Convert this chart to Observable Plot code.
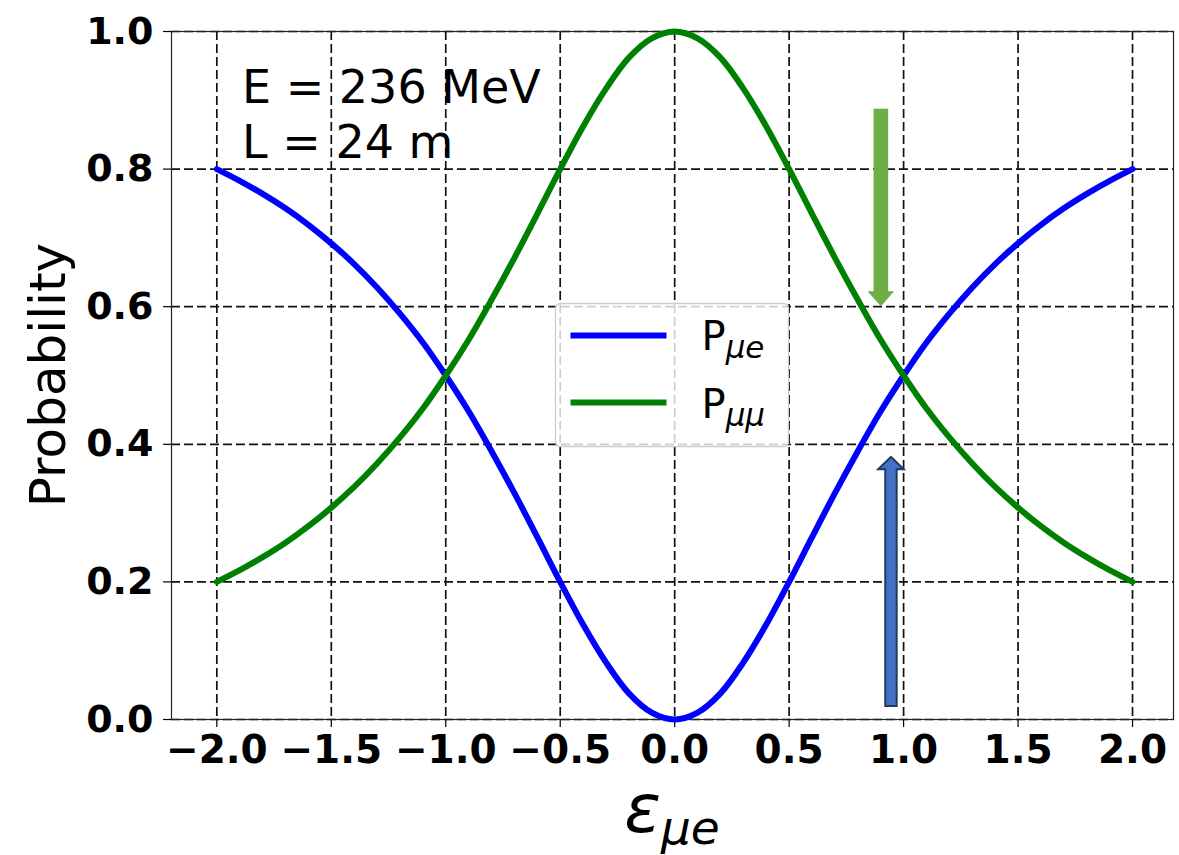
<!DOCTYPE html>
<html>
<head>
<meta charset="utf-8">
<script src="https://cdn.jsdelivr.net/npm/d3@7"></script>
<script src="https://cdn.jsdelivr.net/npm/@observablehq/plot@0.6"></script>
<style>
  html, body { margin: 0; padding: 0; background: #fff; }
</style>
</head>
<body>
<div id="chart"></div>
<script>
// NSI parameter ε_μe and the two oscillation probabilities
const epsilon = [
  -2.0, -1.9, -1.8, -1.7, -1.6, -1.5, -1.4, -1.3, -1.2, -1.1,
  -1.0, -0.9, -0.8, -0.7, -0.6, -0.5, -0.4, -0.3, -0.2, -0.1,
   0.0,
   0.1,  0.2,  0.3,  0.4,  0.5,  0.6,  0.7,  0.8,  0.9,  1.0,
   1.1,  1.2,  1.3,  1.4,  1.5,  1.6,  1.7,  1.8,  1.9,  2.0
];
const pMuE = [
  0.800, 0.783, 0.764, 0.743, 0.719, 0.692, 0.662, 0.628, 0.590, 0.548,
  0.500, 0.448, 0.390, 0.329, 0.265, 0.200, 0.138, 0.083, 0.038, 0.010,
  0.000,
  0.010, 0.038, 0.083, 0.138, 0.200, 0.265, 0.329, 0.390, 0.448, 0.500,
  0.548, 0.590, 0.628, 0.662, 0.692, 0.719, 0.743, 0.764, 0.783, 0.800
];
const pMuMu = [
  0.200, 0.217, 0.236, 0.257, 0.281, 0.308, 0.338, 0.372, 0.410, 0.452,
  0.500, 0.552, 0.610, 0.671, 0.735, 0.800, 0.862, 0.917, 0.962, 0.990,
  1.000,
  0.990, 0.962, 0.917, 0.862, 0.800, 0.735, 0.671, 0.610, 0.552, 0.500,
  0.452, 0.410, 0.372, 0.338, 0.308, 0.281, 0.257, 0.236, 0.217, 0.200
];

const xTicks = [-2.0, -1.5, -1.0, -0.5, 0.0, 0.5, 1.0, 1.5, 2.0];
const yTicks = [0.0, 0.2, 0.4, 0.6, 0.8, 1.0];

const infoLines = ["E = 236 MeV", "L = 24 m"];
const legendLabels = [["P", "μe"], ["P", "μμ"]];
const yLabel = "Probability";
const xLabel = ["ε", "μe"];

// Block arrows: position along ε, start and end probability
const arrowEps  = [0.903, 0.947];
const arrowFrom = [0.887, 0.019];
const arrowTo   = [0.600, 0.381];

const rows = epsilon.map((e, i) => ({eps: e, pmue: pMuE[i], pmumu: pMuMu[i]}));
const arrows = arrowEps.map((e, i) => ({eps: e, from: arrowFrom[i], to: arrowTo[i]}));

const BLUE = "#0000ff", GREEN = "#008000";
const seriesColors = [BLUE, GREEN];
const arrowFill = ["#70ad47", "#4472c4"];
const arrowStroke = ["none", "#203864"];
const arrowShaft = [7.3, 5.7];   // half widths, px
const arrowHead = [13.3, 12.8];
const arrowHeadLen = [15, 12.3];

const FONT = "DejaVu Sans";
const minus = d => d.toFixed(1).replace("-", "\u2212");

// Block-arrow layer, placed with the chart's scales
const arrowLayer = (index, scales) => {
  const g = d3.create("svg:g");
  arrows.forEach((a, i) => {
    const x = scales.x(a.eps);
    const y0 = scales.y(a.from);
    const y1 = scales.y(a.to);
    const dir = y1 > y0 ? 1 : -1;
    const hb = y1 - dir * arrowHeadLen[i];
    const w = arrowShaft[i], hw = arrowHead[i];
    const pts = [
      [x - w, y0], [x + w, y0], [x + w, hb], [x + hw, hb],
      [x, y1], [x - hw, hb], [x - w, hb]
    ];
    g.append("path")
      .attr("d", "M" + pts.map(p => p.join(",")).join("L") + "Z")
      .attr("fill", arrowFill[i])
      .attr("stroke", arrowStroke[i])
      .attr("stroke-width", 2)
      .attr("stroke-linejoin", "miter");
  });
  return g.node();
};

// Legend box in the centre of the frame
const legendLayer = (index, scales, values, dims) => {
  const {width, height, marginLeft, marginRight, marginTop, marginBottom} = dims;
  const cx = (marginLeft + width - marginRight) / 2;
  const cy = (marginTop + height - marginBottom) / 2;
  const bw = 233, bh = 143;
  const left = cx - bw / 2, top = cy - bh / 2;
  const g = d3.create("svg:g");
  g.append("rect")
    .attr("x", left).attr("y", top)
    .attr("width", bw).attr("height", bh)
    .attr("rx", 5)
    .attr("fill", "#fff").attr("fill-opacity", 0.8)
    .attr("stroke", "#cccccc").attr("stroke-width", 1.3);
  legendLabels.forEach(([main, sub], i) => {
    const ly = top + 32 + i * 67;
    g.append("line")
      .attr("x1", left + 15).attr("x2", left + 111)
      .attr("y1", ly).attr("y2", ly)
      .attr("stroke", seriesColors[i]).attr("stroke-width", 6);
    const t = g.append("text")
      .attr("x", left + 146).attr("y", top + 46 + i * 68)
      .attr("text-anchor", "start")
      .attr("font-family", FONT).attr("font-size", 40).attr("fill", "#000");
    t.append("tspan").text(main);
    t.append("tspan").text(sub)
      .attr("font-size", 31).attr("font-style", "italic").attr("dy", 8);
  });
  return g.node();
};

// Energy / baseline annotation, axis titles
const textLayer = (index, scales, values, dims) => {
  const {width, height, marginLeft, marginRight, marginTop, marginBottom} = dims;
  const g = d3.create("svg:g").attr("font-family", FONT).attr("fill", "#000");
  infoLines.forEach((s, i) => {
    g.append("text")
      .attr("x", marginLeft + 71).attr("y", marginTop + 72 + i * 55)
      .attr("text-anchor", "start")
      .attr("font-size", 46).text(s);
  });
  const fy = (marginTop + height - marginBottom) / 2;
  g.append("text")
    .attr("transform", `translate(65,${fy}) rotate(-90)`)
    .attr("text-anchor", "middle")
    .attr("font-size", 50).text(yLabel);
  const fx = (marginLeft + width - marginRight) / 2;
  const xl = g.append("text")
    .attr("x", fx).attr("y", 832)
    .attr("text-anchor", "middle")
    .attr("font-size", 68).attr("font-style", "italic");
  xl.append("tspan").text(xLabel[0]);
  xl.append("tspan").text(xLabel[1]).attr("font-size", 47).attr("dy", 12);
  return g.node();
};

const chart = Plot.plot({
  width: 1179,
  height: 855,
  marginLeft: 171,
  marginRight: 6,
  marginTop: 31,
  marginBottom: 136,
  style: {fontFamily: FONT, background: "#fff", color: "#000"},
  x: {domain: [-2.198, 2.179]},
  y: {domain: [0, 1]},
  marks: [
    Plot.ruleX(xTicks, {stroke: "#111", strokeWidth: 1.7, strokeDasharray: "9,4"}),
    Plot.ruleY(yTicks, {stroke: "#111", strokeWidth: 1.7, strokeDasharray: "9,4"}),
    Plot.frame({stroke: "#222", strokeWidth: 1.2}),
    Plot.axisX(xTicks, {
      tickSize: 8, tickPadding: 8, tickFormat: minus, label: null,
      fontSize: 39, fontWeight: "bold", strokeWidth: 1.2
    }),
    Plot.axisY(yTicks, {
      tickSize: 8, tickPadding: 10, tickFormat: d => d.toFixed(1), label: null,
      fontSize: 38, fontWeight: "bold", strokeWidth: 1.2
    }),
    Plot.line(rows, {x: "eps", y: "pmue", stroke: BLUE, strokeWidth: 6, curve: "catmull-rom"}),
    Plot.line(rows, {x: "eps", y: "pmumu", stroke: GREEN, strokeWidth: 6, curve: "catmull-rom"}),
    legendLayer,
    textLayer,
    arrowLayer
  ]
});

document.getElementById("chart").appendChild(chart);
</script>
</body>
</html>
